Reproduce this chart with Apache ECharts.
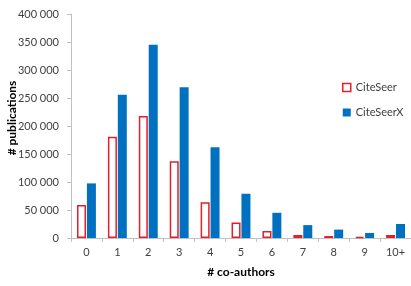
<!DOCTYPE html>
<html><head><meta charset="utf-8">
<script src="https://cdn.jsdelivr.net/npm/echarts@6/dist/echarts.min.js"></script>
<style>html,body{margin:0;padding:0;background:#fff}#c{width:411px;height:286px}</style>
</head><body><div id="c"></div>
<script>
var categories = ['0','1','2','3','4','5','6','7','8','9','10+'];
var citeseer = [59000, 181000, 218000, 137000, 64000, 27500, 12500, 5500, 3500, 2000, 5500];
var citeseerx = [97500, 256000, 345000, 269000, 162000, 79000, 45000, 23000, 15000, 9000, 25000];
var yTicks = {min: 0, max: 400000, interval: 50000};

var font = 'Lato, "Open Sans", sans-serif';
var chart = echarts.init(document.getElementById('c'));
chart.setOption({
  animation: false,
  textStyle: {fontFamily: font},
  grid: {left: 71, right: -4, top: 14, bottom: 48},
  graphic: [{
    type: 'text', x: 12, y: 118, rotation: Math.PI / 2,
    style: {text: '# publications', font: 'bold 12px ' + font, fill: '#000',
      textAlign: 'center', textVerticalAlign: 'middle'}
  }],
  legend: {
    orient: 'vertical', left: 342, top: 82, padding: 0, itemWidth: 8, itemHeight: 8, itemGap: 14,
    textStyle: {fontFamily: font, fontSize: 11, color: '#404040'},
    data: [
      {name: 'CiteSeer', icon: 'rect', itemStyle: {color: '#fff', borderColor: '#e0202a', borderWidth: 1.5}},
      {name: 'CiteSeerX', icon: 'rect'}
    ]
  },
  xAxis: {
    type: 'category', data: categories,
    name: '# co-authors', nameLocation: 'middle', nameGap: 28,
    nameTextStyle: {fontFamily: font, fontSize: 12, fontWeight: 'bold', color: '#000'},
    axisLine: {lineStyle: {color: '#c0c0c0'}},
    axisTick: {show: true, length: 4, lineStyle: {color: '#c0c0c0'}},
    axisLabel: {fontFamily: font, fontSize: 11, color: '#404040', margin: 9}
  },
  yAxis: {
    type: 'value', min: yTicks.min, max: yTicks.max, interval: yTicks.interval,
    splitLine: {show: false},
    axisLine: {show: true, lineStyle: {color: '#c0c0c0'}},
    axisTick: {show: true, length: 4, lineStyle: {color: '#c0c0c0'}},
    axisLabel: {fontFamily: font, fontSize: 11, color: '#404040', margin: 12,
      formatter: function (v) { return String(v).replace(/\B(?=(\d{3})+(?!\d))/g, ' '); }}
  },
  series: [
    {name: 'CiteSeer', type: 'bar', data: citeseer, barWidth: 9, barGap: '10%',
      itemStyle: {color: '#fff', borderColor: '#e0202a', borderWidth: 1.5}},
    {name: 'CiteSeerX', type: 'bar', data: citeseerx, barWidth: 9,
      itemStyle: {color: '#0070c0'}}
  ]
});
</script></body></html>
